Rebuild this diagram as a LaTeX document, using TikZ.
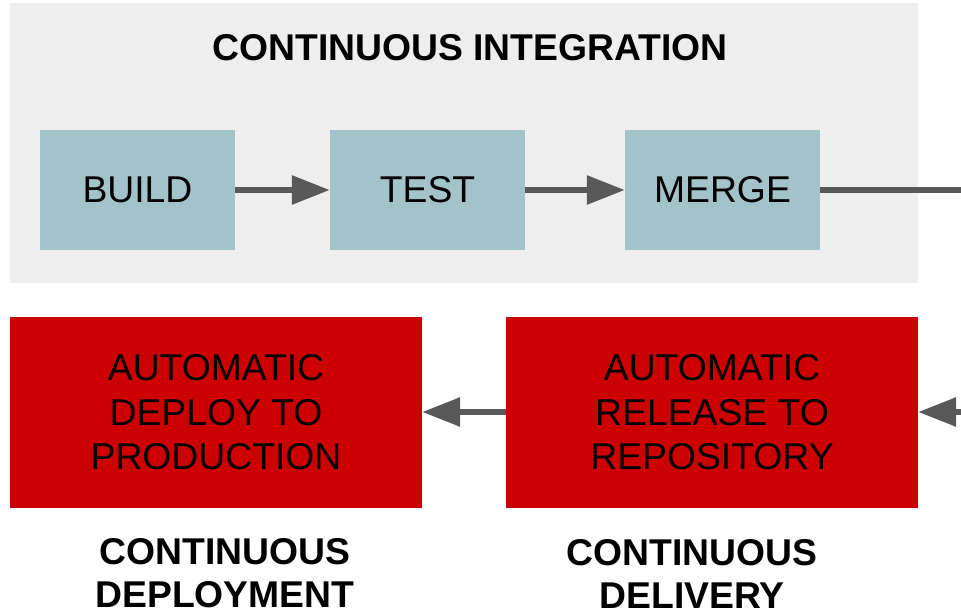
\documentclass[tikz,border=0pt]{standalone}
\usepackage{fontspec}
\setmainfont{Liberation Sans}
\usetikzlibrary{arrows.meta}
\definecolor{bgray}{HTML}{EEEEEE}
\definecolor{tealbox}{HTML}{A2C4C9}
\definecolor{redbox}{HTML}{CC0000}
\definecolor{arrowgray}{HTML}{595959}
\tikzset{
  cibox/.style={fill=tealbox, draw=none, minimum width=195pt, minimum height=120pt, inner sep=0pt,
    font=\fontsize{37.3}{44.5}\selectfont},
  cdbox/.style={fill=redbox, draw=none, minimum width=412pt, minimum height=191pt, inner sep=0pt, align=center,
    font=\fontsize{37.3}{44.5}\selectfont},
  lbl/.style={align=center, inner sep=0pt, font=\fontsize{37.3}{43}\selectfont\bfseries},
  flow/.style={draw=arrowgray, line width=6pt},
  flowarr/.style={flow, -{Triangle[length=38pt,width=28pt]}},
}
\begin{document}
\begin{tikzpicture}[x=1pt,y=-1pt]
\useasboundingbox (0,0) rectangle (961,613);
\fill[bgray] (10,3) rectangle (918,283);
\node[lbl] (cititle) at (470,48) {CONTINUOUS INTEGRATION};
\node[cibox] (build) at (137.5,190) {BUILD};
\node[cibox] (test) at (427.5,190) {TEST};
\node[cibox] (merge) at (722.5,190) {MERGE};
\node[cdbox] (deploy) at (216,412.5) {AUTOMATIC\\DEPLOY TO\\PRODUCTION};
\node[cdbox] (release) at (712,412.5) {AUTOMATIC\\RELEASE TO\\REPOSITORY};
\node[lbl] (cdeploy) at (225,573.5) {CONTINUOUS\\DEPLOYMENT};
\node[lbl] (cdeliv) at (692,573.5) {CONTINUOUS\\DELIVERY};
\coordinate (outr) at (961,190);
\coordinate (inr) at (961,412);
\draw[flowarr] (build.east) -- (test.west);
\draw[flowarr] (test.east) -- (merge.west);
\draw[flow] (merge.east) -- (outr);
\draw[flowarr] (inr) -- (release.east |- inr);
\draw[flowarr] (release.west |- inr) -- (deploy.east |- inr);
\end{tikzpicture}
\end{document}
